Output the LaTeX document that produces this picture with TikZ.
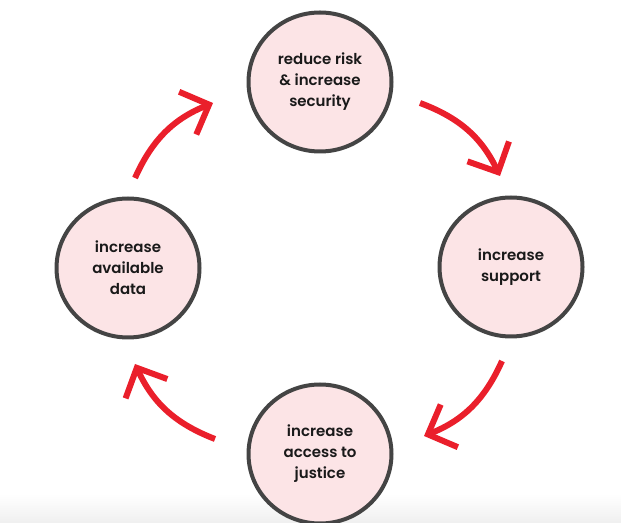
\documentclass[tikz,border=0pt]{standalone}
\usepackage{fontspec}
\setmainfont{Poppins}[UprightFont=* SemiBold]
\usetikzlibrary{arrows.meta,shapes.geometric}
\definecolor{ringfill}{HTML}{FCE4E6}
\definecolor{ringline}{HTML}{444444}
\definecolor{flowred}{HTML}{EA1F2B}
\tikzset{
  stage/.style={ellipse, draw=ringline, line width=4pt, fill=ringfill,
    minimum width=143pt, minimum height=139pt, inner sep=0pt, align=center,
    font=\fontsize{15pt}{21pt}\selectfont, text=black!90},
  flow/.style={draw=flowred, line width=6pt,
    -{Straight Barb[length=23pt,width=46pt]}}
}
\begin{document}
\begin{tikzpicture}[x=1pt,y=1pt]
  \useasboundingbox (0,0) rectangle (621,522);
  % faint shadow along the lower edge
  \shade[top color=white, bottom color=black!6] (0,0) rectangle (621,28);

  % the four stages of the cycle
  \node[stage] (risk)    at (320,440) {reduce risk\\\& increase\\security};
  \node[stage] (support) at (511,255) {increase\\support};
  \node[stage] (justice) at (320,68)  {increase\\access to\\justice};
  \node[stage] (data)    at (128,254) {increase\\available\\data};

  % end points of the curved arrows between the stages
  \coordinate (a1s) at (135,344);
  \coordinate (a1e) at (213,419);
  \coordinate (a2s) at (420,419);
  \coordinate (a2e) at (500,346);
  \coordinate (a3s) at (502,161);
  \coordinate (a3e) at (424,86);
  \coordinate (a4s) at (215,83);
  \coordinate (a4e) at (135,158);

  \draw[flow] (a1s) to[bend left=22] (a1e);
  \draw[flow] (a2s) to[bend left=22] (a2e);
  \draw[flow] (a3s) to[bend left=22] (a3e);
  \draw[flow] (a4s) to[bend left=22] (a4e);
\end{tikzpicture}
\end{document}
